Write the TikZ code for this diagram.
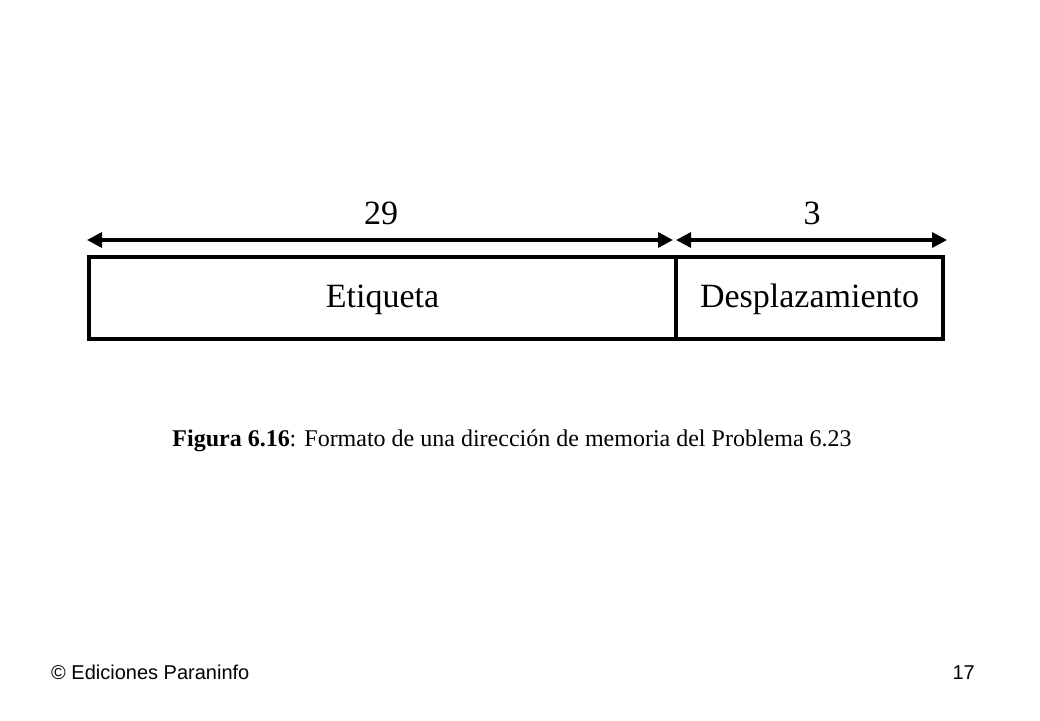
\documentclass[tikz,border=0pt]{standalone}
\usepackage{fontspec}
\setmainfont{Liberation Serif}
\newfontfamily\footfont{Liberation Sans}
\usepackage{tikz}
\usetikzlibrary{arrows.meta, positioning}

\begin{document}
\begin{tikzpicture}[x=1pt, y=-1pt]
        \tikzstyle{field} = [rectangle, draw=black, line width=3.3pt, minimum height=82pt, inner sep=0pt, outer sep=0pt, text height=24pt, text depth=6pt, text centered, font=\fontsize{34}{40}\selectfont]
        \tikzstyle{bits} = [font=\fontsize{34}{40}\selectfont, inner sep=0pt]
        \tikzstyle{arrow} = [{Triangle[length=15pt, width=15pt]}-{Triangle[length=15pt, width=15pt]}, line width=3.3pt]
        \tikzstyle{footer} = [inner sep=0pt, font=\footfont\fontsize{20}{24}\selectfont]

        \useasboundingbox (0,0) rectangle (1040,720);
        \fill[white] (0,0) rectangle (1040,720);

        % Nodes
        \node (etiqueta) [field, minimum width=587pt] at (382.5,298) {Etiqueta};
        \node (desplaz) [field, minimum width=267pt, anchor=west] at (etiqueta.east) {Desplazamiento};

        % Arrow ends
        \coordinate (tagL) at (87,240);
        \coordinate (tagR) at (673,240);
        \coordinate (offL) at (676,240);
        \coordinate (offR) at (947,240);

        % Arrows
        \draw [arrow] (tagL) -- (tagR);
        \draw [arrow] (offL) -- (offR);

        % Bit counts
        \node (n29) [bits] at (381,213) {29};
        \node (n3) [bits] at (812,213) {3};

        % Caption
        \node (caption) [font=\fontsize{24}{28}\selectfont] at (512,441) {\textbf{Figura 6.16}: Formato de una dirección de memoria del Problema 6.23};

        % Footer
        \node (editor) [footer, anchor=base west] at (51,679) {© Ediciones Paraninfo};
        \node (page) [footer, anchor=base east] at (975,679) {17};
    \end{tikzpicture}
\end{document}
